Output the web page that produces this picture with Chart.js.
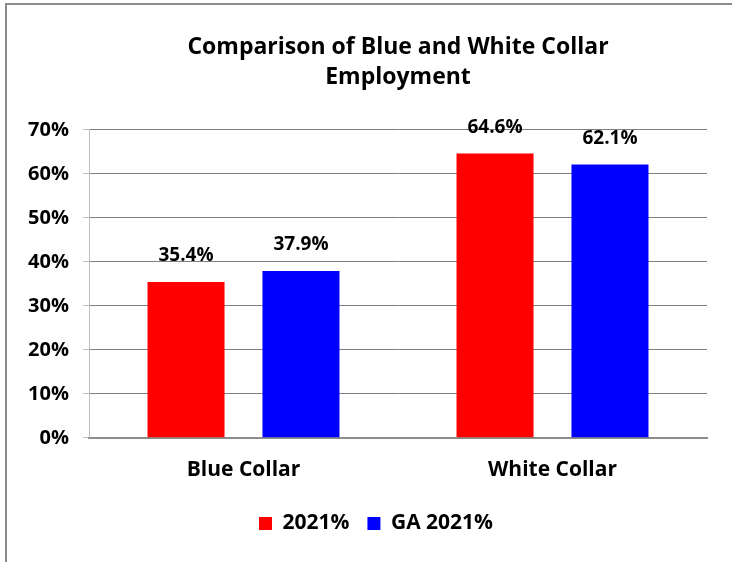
<!DOCTYPE html>
<html>
<head>
<meta charset="utf-8">
<script src="https://cdn.jsdelivr.net/npm/chart.js@4/dist/chart.umd.min.js"></script>
<style>
  html, body { margin: 0; padding: 0; background: #fff; }
  #wrap { position: relative; width: 732px; height: 562px; }
  #frame { position: absolute; left: 5px; top: 3px; width: 740px; height: 580px; border: 2px solid #8c8c8c; box-sizing: border-box; }
  canvas { position: absolute; left: 0; top: 0; }
</style>
</head>
<body>
<div id="wrap">
  <div id="frame"></div>
  <canvas id="chart" width="732" height="562"></canvas>
</div>
<script>
// categories and series
const categories = ["Blue Collar", "White Collar"];
const series2021 = [35.4, 64.6];
const seriesGA2021 = [37.9, 62.1];
const yTicks = [0, 10, 20, 30, 40, 50, 60, 70];

const FONT = "'Open Sans', sans-serif";

// draws the value above each bar
const barLabels = {
  id: "barLabels",
  afterDatasetsDraw(chart) {
    const ctx = chart.ctx;
    ctx.save();
    ctx.font = "bold 19px " + FONT;
    ctx.fillStyle = "#000";
    ctx.textAlign = "center";
    ctx.textBaseline = "middle";
    chart.data.datasets.forEach((ds, i) => {
      chart.getDatasetMeta(i).data.forEach((bar, j) => {
        ctx.fillText(ds.data[j].toFixed(1) + "%", bar.x, bar.y - 26);
      });
    });
    ctx.restore();
  }
};

// nudge the legend a bit right, like the original
const legendShift = {
  id: "legendShift",
  afterLayout(chart) {
    if (chart.legend) chart.legend.left += 45;
  }
};

const ctx = document.getElementById("chart").getContext("2d");
new Chart(ctx, {
  type: "bar",
  data: {
    labels: categories,
    datasets: [
      {
        label: "2021%",
        data: series2021,
        backgroundColor: "#ff0000",
        categoryPercentage: 0.744,
        barPercentage: 0.67
      },
      {
        label: "GA 2021%",
        data: seriesGA2021,
        backgroundColor: "#0000ff",
        categoryPercentage: 0.744,
        barPercentage: 0.67
      }
    ]
  },
  options: {
    responsive: false,
    animation: false,
    layout: { padding: { left: 0, right: 25, top: 33, bottom: 18 } },
    plugins: {
      title: {
        display: true,
        fullSize: false,
        text: ["Comparison of Blue and White Collar", "Employment"],
        color: "#000",
        font: { family: FONT, size: 23, weight: "bold", lineHeight: 1.3 },
        padding: { top: 0, bottom: 37 }
      },
      legend: {
        position: "bottom",
        labels: {
          color: "#000",
          font: { family: FONT, size: 21, weight: "bold" },
          boxWidth: 13,
          boxHeight: 13,
          padding: 18
        }
      },
      tooltip: { enabled: false }
    },
    scales: {
      x: {
        grid: { display: false },
        border: { color: "#8c8c8c", width: 2 },
        ticks: {
          color: "#000",
          font: { family: FONT, size: 21, weight: "bold" },
          padding: 12
        }
      },
      y: {
        min: 0,
        max: 70,
        afterFit(scale) { scale.width = 89; },
        afterBuildTicks(scale) { scale.ticks = yTicks.map(v => ({ value: v })); },
        border: { color: "#bdbdbd", width: 1 },
        grid: { color: "#7f7f7f", tickLength: 6, tickColor: "#bdbdbd" },
        ticks: {
          color: "#000",
          font: { family: FONT, size: 20, weight: "bold" },
          padding: 14,
          callback: v => v + "%"
        }
      }
    }
  },
  plugins: [barLabels, legendShift]
});
</script>
</body>
</html>
